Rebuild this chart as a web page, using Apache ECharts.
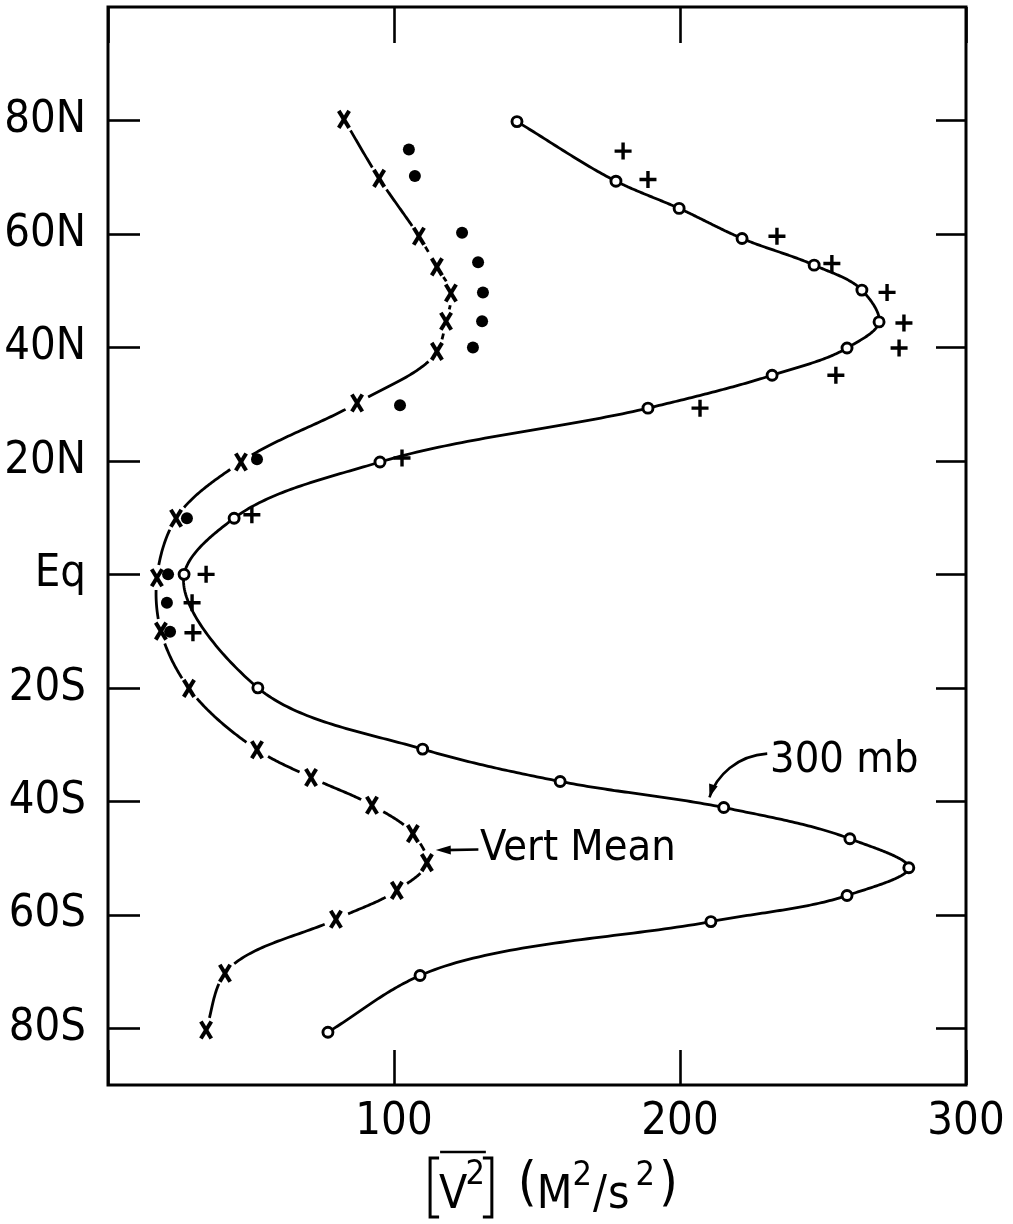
<!DOCTYPE html>
<html>
<head>
<meta charset="utf-8">
<script src="https://cdn.jsdelivr.net/npm/echarts@6/dist/echarts.min.js"></script>
<style>
  html, body { margin: 0; padding: 0; background: #fff; }
  #chart { width: 1013px; height: 1224px; }
</style>
</head>
<body>
<div id="chart"></div>
<script>
// Zonal mean of v^2 (m^2/s^2) against latitude (+N / -S)

// 300 mb profile: open circles joined by a solid curve
const lat300 = [79.8, 69.3, 64.5, 59.2, 54.5, 50.1, 44.5, 39.9, 35.1, 29.3, 19.8, 9.9, 0, -20, -30.8, -36.5, -41.1, -46.6, -51.7, -56.6, -61.2, -70.7, -80.7];
const v300   = [143, 177.6, 199.7, 221.7, 246.9, 263.6, 269.6, 258.4, 232.2, 188.8, 95.1, 44.1, 26.6, 52.4, 110.0, 158.1, 215.3, 259.4, 280, 258.4, 210.8, 109.1, 76.9];

// Vertical mean: crosses joined by a broken curve
const latVM = [80.2, 69.8, 59.6, 54.2, 49.6, 44.6, 39.3, 30.2, 19.8, 9.9, -0.6, -10, -20.1, -30.9, -35.8, -40.7, -45.7, -50.8, -55.7, -60.8, -70.3, -80.3];
const vVM   = [82.5, 94.8, 108.7, 115.0, 119.9, 118.2, 115.0, 87.1, 46.5, 23.8, 17.1, 18.5, 28.3, 52.1, 71.0, 92.3, 106.6, 111.5, 101.0, 79.7, 40.9, 34.3];

// Filled dots
const latDot = [74.9, 70.2, 60.2, 55.0, 49.7, 44.6, 40.0, 29.8, 20.3, 9.9, 0, -5, -10.1];
const vDot   = [105.2, 107.3, 123.8, 129.4, 131.1, 130.8, 127.6, 102.1, 52.1, 27.6, 21.0, 20.6, 21.7];

// Plus marks
const latPlus = [74.6, 69.6, 59.6, 54.8, 49.7, 44.3, 39.9, 35.1, 29.3, 20.5, 10.5, 0, -5, -10.3];
const vPlus   = [180.1, 188.8, 233.9, 253.1, 272.4, 278.3, 276.6, 254.5, 207.0, 102.8, 50.3, 34.3, 29.4, 29.7];

// Axis ticks
const latTicks = [-80, -60, -40, -20, 0, 20, 40, 60, 80];
const vTicks = [100, 200, 300];

const FONT = '"Liberation Sans Narrow", "DejaVu Sans Condensed", "Liberation Sans", sans-serif';
const INK = '#000';
const ALPHA = 0.75; // Catmull-Rom parameterisation (0.5 centripetal, 1 chordal)

function latLabel(v) {
  if (v === 0) return 'Eq';
  return v > 0 ? v + 'N' : (-v) + 'S';
}

function pairs(xs, ys) {
  return xs.map((x, k) => [x, ys[k]]);
}

function dist(a, b) {
  return Math.hypot(a[0] - b[0], a[1] - b[1]);
}

// Bezier control points of the Catmull-Rom segment p1 -> p2
function splineControls(p0, p1, p2, p3) {
  const d1 = Math.max(Math.pow(dist(p0, p1), ALPHA), 1e-6);
  const d2 = Math.max(Math.pow(dist(p1, p2), ALPHA), 1e-6);
  const d3 = Math.max(Math.pow(dist(p2, p3), ALPHA), 1e-6);
  const b1 = [0, 1].map(k =>
    (d1 * d1 * p2[k] - d2 * d2 * p0[k] + (2 * d1 * d1 + 3 * d1 * d2 + d2 * d2) * p1[k]) / (3 * d1 * (d1 + d2)));
  const b2 = [0, 1].map(k =>
    (d3 * d3 * p1[k] - d2 * d2 * p3[k] + (2 * d3 * d3 + 3 * d3 * d2 + d2 * d2) * p2[k]) / (3 * d3 * (d3 + d2)));
  return [b1, b2];
}

function bezierPoint(p1, b1, b2, p2, t) {
  const u = 1 - t;
  return [0, 1].map(k =>
    u * u * u * p1[k] + 3 * u * u * t * b1[k] + 3 * u * t * t * b2[k] + t * t * t * p2[k]);
}

function crossMark(p) {
  const w = 5.2, h = 8.5;
  const st = { stroke: INK, lineWidth: 4, lineCap: 'butt' };
  return {
    type: 'group',
    children: [
      { type: 'line', shape: { x1: p[0] - w, y1: p[1] - h, x2: p[0] + w, y2: p[1] + h }, style: st },
      { type: 'line', shape: { x1: p[0] + w, y1: p[1] - h, x2: p[0] - w, y2: p[1] + h }, style: st }
    ]
  };
}

function ringMark(p) {
  return {
    type: 'circle',
    shape: { cx: p[0], cy: p[1], r: 5 },
    style: { fill: '#fff', stroke: INK, lineWidth: 2.9 }
  };
}

// Draws one spline segment per data item plus the item's marker
function curveRenderer(xs, ys, opts) {
  const n = xs.length;
  return function (params, api) {
    const i = params.dataIndex;
    const P = k => api.coord([xs[k], ys[k]]);
    const p1 = P(i);
    const children = [];
    if (i < n - 1) {
      const p2 = P(i + 1);
      const p0 = i > 0 ? P(i - 1) : [2 * p1[0] - p2[0], 2 * p1[1] - p2[1]];
      const p3 = i < n - 2 ? P(i + 2) : [2 * p2[0] - p1[0], 2 * p2[1] - p1[1]];
      const [b1, b2] = splineControls(p0, p1, p2, p3);
      const pts = [];
      const steps = 48;
      for (let s = 0; s <= steps; s++) {
        const q = bezierPoint(p1, b1, b2, p2, s / steps);
        if (dist(q, p1) >= opts.gap && dist(q, p2) >= opts.gap) pts.push(q);
      }
      if (pts.length > 1) {
        const dashed = opts.dashed ? opts.dashed(ys[i], ys[i + 1]) : false;
        children.push({
          type: 'polyline',
          shape: { points: pts },
          style: {
            fill: null,
            stroke: INK,
            lineWidth: opts.lineWidth,
            lineDash: dashed ? [6, 5] : null,
            lineJoin: 'round'
          }
        });
      }
    }
    children.push(opts.marker(p1));
    return { type: 'group', children: children };
  };
}

const chart = echarts.init(document.getElementById('chart'), null, { renderer: 'canvas' });

const tickStyle = { color: INK, width: 2.6 };
const noLine = { show: false, onZero: false };

const option = {
  animation: false,
  backgroundColor: '#fff',
  grid: {
    left: 108, right: 47, top: 7, bottom: 139,
    show: true, borderColor: INK, borderWidth: 3, backgroundColor: 'transparent'
  },
  xAxis: [
    {
      type: 'value', position: 'bottom', min: 0, max: 300, interval: 100,
      axisLine: noLine, splitLine: { show: false },
      axisTick: { show: true, inside: true, length: 35, lineStyle: tickStyle },
      axisLabel: {
        show: true, margin: 15, color: INK, fontFamily: FONT, fontSize: 45,
        formatter: v => (vTicks.indexOf(v) >= 0 ? String(v) : '')
      }
    },
    {
      type: 'value', position: 'top', min: 0, max: 300, interval: 100,
      axisLine: noLine, splitLine: { show: false },
      axisTick: { show: true, inside: true, length: 36, lineStyle: tickStyle },
      axisLabel: { show: false }
    }
  ],
  yAxis: [
    {
      type: 'value', position: 'left', min: -90, max: 100,
      axisLine: noLine, splitLine: { show: false },
      axisTick: { show: true, inside: true, length: 32, customValues: latTicks, lineStyle: tickStyle },
      axisLabel: {
        show: true, customValues: latTicks, margin: 22, color: INK,
        fontFamily: FONT, fontSize: 45, formatter: latLabel
      }
    },
    {
      type: 'value', position: 'right', min: -90, max: 100,
      axisLine: noLine, splitLine: { show: false },
      axisTick: { show: true, inside: true, length: 30, customValues: latTicks, lineStyle: tickStyle },
      axisLabel: { show: false }
    }
  ],
  series: [
    {
      type: 'custom', name: 'Vert Mean', coordinateSystem: 'cartesian2d',
      xAxisIndex: 0, yAxisIndex: 0, encode: { x: 0, y: 1 },
      data: pairs(vVM, latVM), z: 2, silent: true,
      renderItem: curveRenderer(vVM, latVM, {
        gap: 12, lineWidth: 2.8, marker: crossMark,
        dashed: (a, b) => a <= 61 && a >= 39 && b <= 61 && b >= 39
      })
    },
    {
      type: 'custom', name: '300 mb', coordinateSystem: 'cartesian2d',
      xAxisIndex: 0, yAxisIndex: 0, encode: { x: 0, y: 1 },
      data: pairs(v300, lat300), z: 3, silent: true,
      renderItem: curveRenderer(v300, lat300, { gap: 0, lineWidth: 2.8, marker: ringMark })
    },
    {
      type: 'scatter', name: 'dots', xAxisIndex: 0, yAxisIndex: 0,
      data: pairs(vDot, latDot), symbol: 'circle', symbolSize: 12,
      itemStyle: { color: INK, opacity: 1 }, z: 4, silent: true
    },
    {
      type: 'scatter', name: 'plus', xAxisIndex: 0, yAxisIndex: 0,
      data: pairs(vPlus, latPlus),
      symbol: 'path://M7 0H10.5V7H17.5V10.5H10.5V17.5H7V10.5H0V7H7Z', symbolSize: 17, symbolKeepAspect: true,
      itemStyle: { color: INK, opacity: 1 }, z: 4, silent: true
    }
  ]
};

chart.setOption(option);

// Annotations placed in data space and converted through the grid
function px(x, lat) {
  return chart.convertToPixel({ seriesIndex: 0 }, [x, lat]);
}

const meas = document.createElement('canvas').getContext('2d');
function textWidth(t, size) {
  meas.font = size + 'px ' + FONT;
  return meas.measureText(t).width;
}

function glyph(text, x, baseline, size) {
  return {
    type: 'text', silent: true,
    style: {
      text: text, x: x, y: baseline - 0.35 * size,
      font: size + 'px ' + FONT, fill: INK,
      textAlign: 'left', verticalAlign: 'middle'
    }
  };
}

function arrowHead(tip, from, len, half) {
  const dx = tip[0] - from[0], dy = tip[1] - from[1];
  const L = Math.hypot(dx, dy) || 1;
  const ux = dx / L, uy = dy / L;
  const bx = tip[0] - ux * len, by = tip[1] - uy * len;
  return {
    type: 'polygon', silent: true,
    shape: { points: [tip, [bx - uy * half, by + ux * half], [bx + uy * half, by - ux * half]] },
    style: { fill: INK }
  };
}

const mbText = px(231.5, -35.5);
const mbStart = px(230.5, -31.6);
const mbTip = px(210.3, -39.3);
const mbC1 = [mbStart[0] - 30, mbStart[1] + 2];
const mbC2 = [mbTip[0] + 7, mbTip[1] - 22];

const vmText = px(130.1, -51.0);
const vmStart = px(129.5, -48.5);
const vmTip = px(114.6, -48.6);

const elements = [
  glyph('300 mb', mbText[0], mbText[1], 43),
  {
    type: 'bezierCurve', silent: true,
    shape: { x1: mbStart[0], y1: mbStart[1], cpx1: mbC1[0], cpy1: mbC1[1], cpx2: mbC2[0], cpy2: mbC2[1], x2: mbTip[0], y2: mbTip[1] },
    style: { stroke: INK, lineWidth: 2.6, fill: null }
  },
  arrowHead(mbTip, mbC2, 13, 4.5),
  glyph('Vert Mean', vmText[0], vmText[1], 43),
  {
    type: 'line', silent: true,
    shape: { x1: vmStart[0], y1: vmStart[1], x2: vmTip[0] + 8, y2: vmTip[1] },
    style: { stroke: INK, lineWidth: 2.6 }
  },
  arrowHead(vmTip, vmStart, 15, 4.5)
];

// Axis title: [V̄²] (M²/s²), laid out glyph by glyph and centred under the plot
(function buildTitle() {
  const big = 46, sup = 34, paren = 54;
  const base = 1212, supBase = 1188, parenBase = 1205;
  const parts = [];
  let x = 0;
  const bl = x;
  x += 9;
  const vx = x;
  parts.push(glyph('V', x, base, big));
  x += textWidth('V', big);
  const s1 = x - 2;
  parts.push(glyph('2', s1, supBase - 1, sup));
  x = s1 + textWidth('2', sup);
  const overEnd = x + 1;
  x += 7;
  const br = x;
  x += 26;
  parts.push(glyph('(', x, parenBase, paren));
  x += textWidth('(', paren);
  parts.push(glyph('M', x, base, big));
  x += textWidth('M', big);
  parts.push(glyph('2', x, supBase, sup));
  x += textWidth('2', sup) + 1;
  parts.push(glyph('/', x, base, big));
  x += textWidth('/', big) + 1;
  parts.push(glyph('s', x, base, big));
  x += textWidth('s', big) + 6;
  parts.push(glyph('2', x, supBase, sup));
  x += textWidth('2', sup) + 4;
  parts.push(glyph(')', x, parenBase, paren));
  x += textWidth(')', paren);

  const left = 554 - x / 2;
  parts.push({
    type: 'polyline', silent: true,
    shape: { points: [[bl + 9, 1158], [bl, 1158], [bl, 1217], [bl + 9, 1217]] },
    style: { stroke: INK, lineWidth: 3, fill: null }
  });
  parts.push({
    type: 'polyline', silent: true,
    shape: { points: [[br - 9, 1158], [br, 1158], [br, 1217], [br - 9, 1217]] },
    style: { stroke: INK, lineWidth: 3, fill: null }
  });
  parts.push({
    type: 'line', silent: true,
    shape: { x1: vx + 1, y1: 1152, x2: overEnd, y2: 1152 },
    style: { stroke: INK, lineWidth: 2.6 }
  });
  elements.push({ type: 'group', x: left, y: 0, children: parts, silent: true });
})();

chart.setOption({ graphic: { elements: elements } });
</script>
</body>
</html>
